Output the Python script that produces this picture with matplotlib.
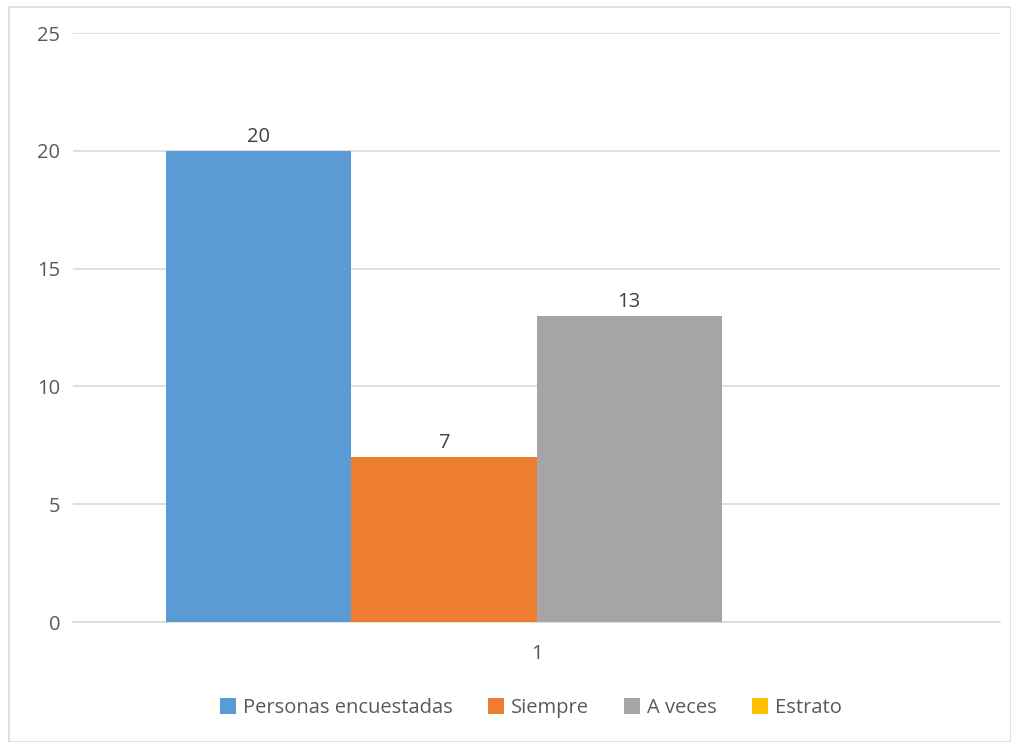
import numpy as np
import matplotlib.pyplot as plt
from matplotlib.patches import Rectangle, Patch

plt.rcParams['font.family'] = ['Open Sans', 'DejaVu Sans']

categories = ['1']
series = ['Personas encuestadas', 'Siempre', 'A veces', 'Estrato']
values = [20, 7, 13, np.nan]
colors = ['#5b9bd5', '#ed7d31', '#a5a5a5', '#ffc000']
text_color = '#595959'

fig = plt.figure(figsize=(10.11, 7.42), dpi=100)
ax = fig.add_axes([0.0722, 0.1617, 0.917, 0.7938])

# chart frame
fig.patches.append(Rectangle((9 / 1011, 0), 1 - 9 / 1011, 1 - 7 / 742,
                             transform=fig.transFigure, fill=False,
                             edgecolor='#d9d9d9', linewidth=1.2))

width = 0.2
offsets = np.array([-1.5, -0.5, 0.5, 1.5]) * width
for name, val, col, off in zip(series, values, colors, offsets):
    if np.isnan(val):
        continue
    bar = ax.bar(1 + off, val, width=width, color=col, label=name, zorder=3)
    ax.bar_label(bar, labels=[f'{val:g}'], padding=3, fontsize=14.5,
                 color='#404040')

ax.set_xlim(0.5, 1.5)
ax.set_ylim(0, 25)
ax.set_yticks(range(0, 26, 5))
ax.set_xticks([1])
ax.set_xticklabels(categories)
ax.grid(axis='y', color='#d9d9d9', linewidth=1.2, zorder=0)
for s in ['top', 'right', 'left']:
    ax.spines[s].set_visible(False)
ax.spines['bottom'].set_color('#d9d9d9')
ax.spines['bottom'].set_linewidth(1.2)
ax.tick_params(axis='both', length=0, labelsize=14.5, labelcolor=text_color)
ax.tick_params(axis='y', pad=9)
ax.tick_params(axis='x', pad=16)

handles = [Patch(facecolor=c, label=s) for s, c in zip(series, colors)]
fig.legend(handles=handles, loc='center', bbox_to_anchor=(531 / 1011, 1 - 708 / 742),
           ncol=4, frameon=False, fontsize=14.5, labelcolor=text_color,
           handlelength=0.8, handleheight=0.8, handletextpad=0.35,
           columnspacing=1.75)

fig.savefig('out.png', dpi=100)
